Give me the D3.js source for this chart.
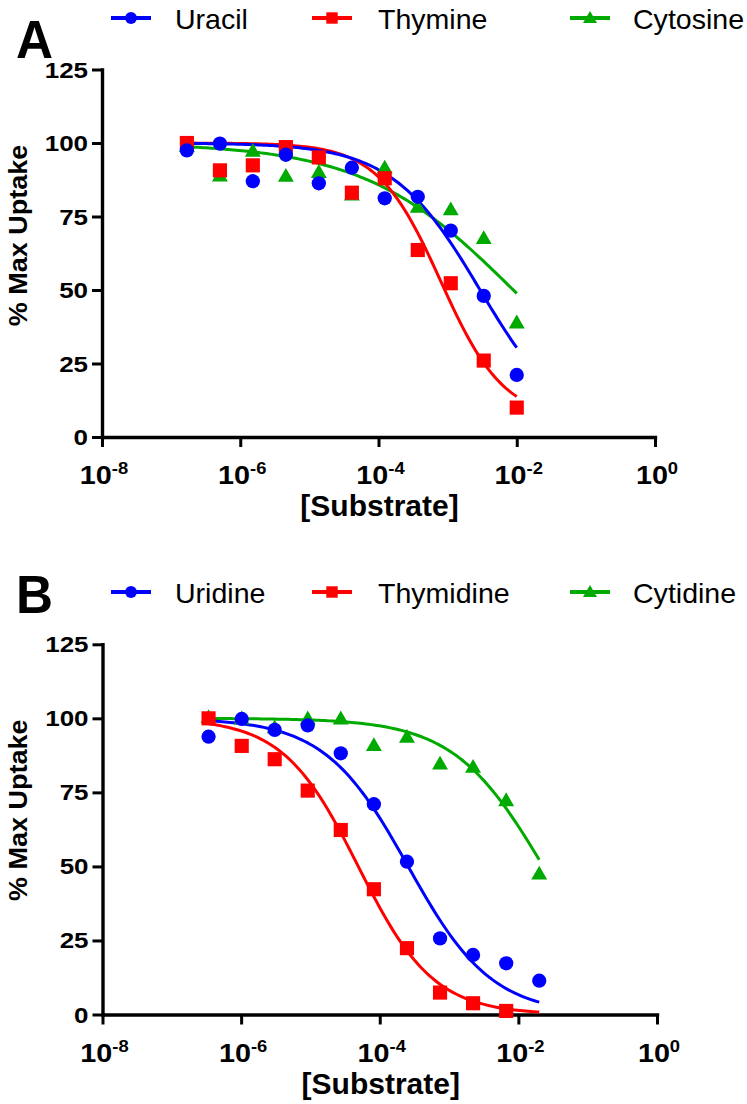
<!DOCTYPE html>
<html><head><meta charset="utf-8">
<script src="https://cdn.jsdelivr.net/npm/d3@7/dist/d3.min.js"></script>
<style>body{margin:0;background:#fff}svg{display:block}</style>
</head><body>
<svg id="chart" width="747" height="1104"></svg>
<script>
// ---------- DATA ----------
const yTicks = [0, 25, 50, 75, 100, 125];
const xTickExps = [-8, -6, -4, -2, 0];

const namesA = ["Uracil", "Thymine", "Cytosine"];
const concA = [1.69e-7, 5.08e-7, 1.52e-6, 4.57e-6, 1.37e-5, 4.12e-5, 1.23e-4, 3.70e-4, 1.11e-3, 3.33e-3, 1.0e-2];
const uracil   = [97.5, 99.8, 87.0, 96.0, 86.3, 91.6, 81.2, 81.7, 70.2, 48.0, 21.1];
const thymine  = [100.0, 90.7, 92.4, 98.6, 95.1, 83.1, 88.0, 63.6, 52.3, 26.0, 10.0];
const cytosine = [98.5, 88.5, 96.9, 88.4, 89.7, 82.0, 91.2, 77.8, 77.0, 67.2, 38.5];
// fitted curve parameters: [top, bottom, logEC50, hill]
const fitUracil   = [100, 0, -2.53, 0.68];
const fitThymine  = [100, 6, -3.10, 0.95];
const fitCytosine = [100, 0, -2.05, 0.40];

const namesB = ["Uridine", "Thymidine", "Cytidine"];
const concB = [3.39e-7, 1.02e-6, 3.05e-6, 9.14e-6, 2.74e-5, 8.23e-5, 2.47e-4, 7.41e-4, 2.22e-3, 6.67e-3, 2.0e-2];
const uridine   = [93.8, 99.8, 96.1, 97.6, 88.2, 71.0, 51.6, 25.7, 20.1, 17.3, 11.4];
const thymidine = [100.0, 90.7, 86.2, 75.6, 62.3, 42.3, 22.4, 7.4, 3.8, 1.2, null];
const cytidine  = [100.0, 99.5, 96.5, 99.5, 99.5, 90.5, 93.3, 84.3, 83.2, 71.9, 47.1];
const fitUridine   = [100, 0, -3.59, 0.72];
const fitThymidine = [100, 0, -4.31, 0.80];
const fitCytidine  = [100, 0, -1.64, 0.67];

const colors = ["#0000ff", "#ff0000", "#00aa00"];
const symbols = [d3.symbolCircle, d3.symbolSquare, d3.symbolTriangle];

// ---------- LAYOUT ----------
const FONT = "'Liberation Sans', Arial, Helvetica, sans-serif";
const svg = d3.select("#chart");

const panels = [
  { letter: "A", names: namesA, conc: concA, series: [uracil, thymine, cytosine],
    fits: [fitUracil, fitThymine, fitCytosine],
    xL: 102, xR: 655, yT: 69.5, yB: 437, legendY: 18, letterY: 58 },
  { letter: "B", names: namesB, conc: concB, series: [uridine, thymidine, cytidine],
    fits: [fitUridine, fitThymidine, fitCytidine],
    xL: 102.5, xR: 657, yT: 644.3, yB: 1014.5, legendY: 592, letterY: 613 }
];

function stext(g, str, x, y, o) {
  return g.append("text")
    .attr("transform", `translate(${x},${y})` + (o.rot ? ` rotate(${o.rot})` : "") + ` scale(${o.sx || 1},1)`)
    .attr("text-anchor", o.anchor || "start")
    .style("font-family", FONT)
    .style("font-weight", o.bold ? "bold" : "normal")
    .style("font-size", o.size + "px")
    .attr("fill", "#000")
    .text(str);
}

function hill(p, lx) {
  const [top, bottom, c, h] = p;
  return bottom + (top - bottom) / (1 + Math.pow(10, (lx - c) * h));
}

const legendSeg = [[111, 151], [312, 352], [570, 610]];
const legendText = [175, 378, 633];
const orderDraw = [2, 1, 0]; // green, red, blue (blue on top)

panels.forEach(P => {
  const g = svg.append("g");
  const x = d3.scaleLog().domain([1e-8, 1]).range([P.xL, P.xR]);
  const y = d3.scaleLinear().domain([0, 125]).range([P.yB, P.yT]);

  // panel letter
  stext(g, P.letter, 16, P.letterY, { size: 54, bold: true, sx: 0.95 });

  // legend
  P.names.forEach((nm, i) => {
    const [a, b] = legendSeg[i];
    g.append("line").attr("x1", a).attr("x2", b).attr("y1", P.legendY).attr("y2", P.legendY)
      .attr("stroke", colors[i]).attr("stroke-width", 4);
    g.append("path").attr("d", d3.symbol().type(symbols[i]).size(i === 0 ? 110 : (i === 1 ? 130 : 85))())
      .attr("transform", `translate(${(a + b) / 2},${P.legendY + (i === 2 ? 1 : 0)})`)
      .attr("fill", colors[i]);
    stext(g, nm, legendText[i], P.legendY + 10.5, { size: 28, sx: 1.02 });
  });

  // axes
  const yAxis = d3.axisLeft(y).tickValues(yTicks).tickSize(10).tickSizeOuter(0).tickFormat("");
  const xAxis = d3.axisBottom(x).tickValues(xTickExps.map(e => Math.pow(10, e))).tickSize(10).tickSizeOuter(0).tickFormat("");
  const ya = g.append("g").attr("transform", `translate(${P.xL},0)`).call(yAxis);
  const xa = g.append("g").attr("transform", `translate(0,${P.yB})`).call(xAxis);
  [ya, xa].forEach(a => {
    a.select(".domain").attr("stroke", "#000").attr("stroke-width", 3.4).attr("stroke-linecap", "square");
    a.selectAll(".tick line").attr("stroke", "#000").attr("stroke-width", 3);
  });

  // y tick labels
  yTicks.forEach(v => {
    stext(g, String(v), P.xL - 14, y(v) + 8, { size: 22, bold: true, anchor: "end", sx: 1.18 });
  });
  // x tick labels 10^e
  xTickExps.forEach(e => {
    const t = g.append("text")
      .attr("transform", `translate(${x(Math.pow(10, e)) + 2},${P.yB + 47}) scale(1.15,1)`)
      .attr("text-anchor", "middle")
      .style("font-family", FONT).style("font-weight", "bold").style("font-size", "25px");
    t.append("tspan").text("10");
    t.append("tspan").attr("dy", -10).style("font-size", "16px").text(String(e));
  });

  // axis titles
  stext(g, "[Substrate]", (P.xL + P.xR) / 2 + 1, P.yB + 79, { size: 30, bold: true, anchor: "middle", sx: 1.0 });
  stext(g, "% Max Uptake", 27, P.yT + 166, { size: 25, bold: true, anchor: "middle", rot: -90, sx: 1.08 });

  // fit curves
  const plot = g.append("g");
  orderDraw.forEach(i => {
    const lo = Math.log10(P.conc[0]);
    const hi = Math.log10(P.conc[P.conc.length - 1]);
    const pts = d3.range(0, 121).map(k => {
      const lx = lo + (hi - lo) * k / 120;
      return [x(Math.pow(10, lx)), y(hill(P.fits[i], lx))];
    });
    plot.append("path").attr("d", d3.line()(pts)).attr("fill", "none")
      .attr("stroke", colors[i]).attr("stroke-width", 3);
  });
  // markers
  orderDraw.forEach(i => {
    const vals = P.series[i];
    const sz = i === 0 ? 160 : (i === 1 ? 200 : 110);
    vals.forEach((v, k) => {
      if (v === null) return;
      plot.append("path").attr("d", d3.symbol().type(symbols[i]).size(sz)())
        .attr("transform", `translate(${x(P.conc[k])},${y(v)})`)
        .attr("fill", colors[i]);
    });
  });
});
</script>
</body></html>
